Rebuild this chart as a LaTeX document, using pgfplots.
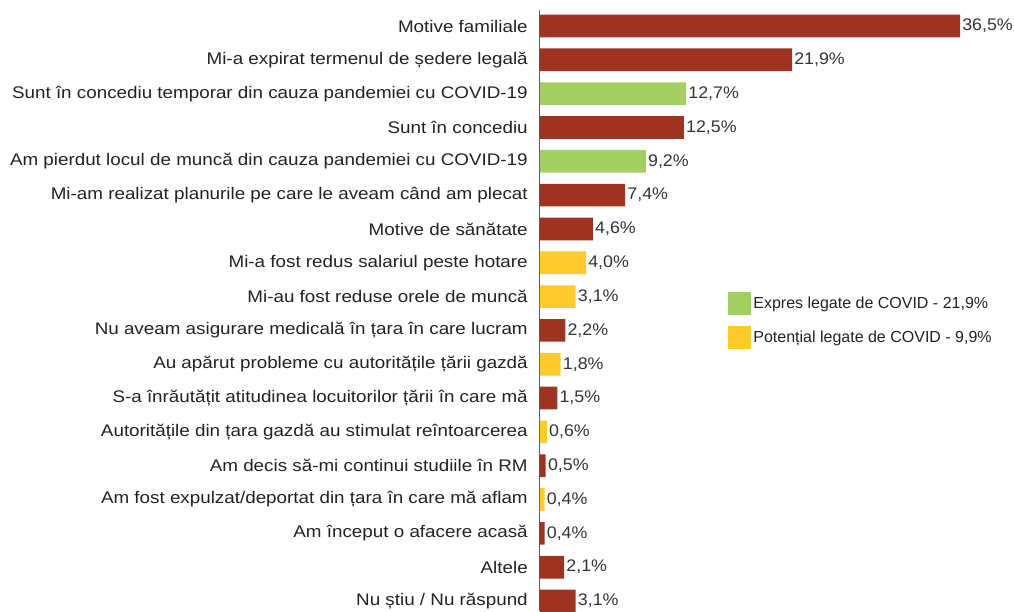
\documentclass[border=0pt]{standalone}
\usepackage{pgfplots}
\pgfplotsset{compat=1.18}
\usepackage{fontspec}
\setmainfont{Liberation Sans}
\newfontfamily\labfont{Liberation Sans}[FakeStretch=1.12]
\newfontfamily\valfont{Liberation Sans}[FakeStretch=1.06]

\definecolor{barred}{HTML}{9E3322}
\definecolor{bargreen}{HTML}{A3CF62}
\definecolor{baryellow}{HTML}{FFCA2C}
\definecolor{txt}{HTML}{222222}

\begin{document}
\begin{tikzpicture}
\path[use as bounding box] (-405pt,0pt) rectangle (355.5pt,458.25pt);
\begin{axis}[
    scale only axis,
    width=354.75pt, height=450.75pt,
    xbar, bar width=17pt, bar shift=0pt,
    xmin=0, xmax=41.1,
    ymin=-0.473, ymax=17.296,
    y dir=reverse,
    axis x line=none,
    axis y line*=left,
    y axis line style={draw=black!65, line width=0.75pt},
    ytick={0,...,17},
    major tick length=0pt,
    yticklabels={
        {Motive familiale},
        {Mi-a expirat termenul de ședere legală},
        {Sunt în concediu temporar din cauza pandemiei cu COVID-19},
        {Sunt în concediu},
        {Am pierdut locul de muncă din cauza pandemiei cu COVID-19},
        {Mi-am realizat planurile pe care le aveam când am plecat},
        {Motive de sănătate},
        {Mi-a fost redus salariul peste hotare},
        {Mi-au fost reduse orele de muncă},
        {Nu aveam asigurare medicală în țara în care lucram},
        {Au apărut probleme cu autoritățile țării gazdă},
        {S-a înrăutățit atitudinea locuitorilor țării în care mă},
        {Autoritățile din țara gazdă au stimulat reîntoarcerea},
        {Am decis să-mi continui studiile în RM},
        {Am fost expulzat/deportat din țara în care mă aflam},
        {Am început o afacere acasă},
        {Altele},
        {Nu știu / Nu răspund}},
    yticklabel style={font=\labfont\fontsize{12.6}{14}\selectfont, text=txt, inner xsep=0pt, xshift=-9pt},
    point meta=x,
    nodes near coords={\pgfmathprintnumber[fixed,fixed zerofill,precision=1,use comma,assume math mode=true]{\pgfplotspointmeta}\%},
    nodes near coords style={font=\valfont\fontsize{12.6}{14}\selectfont, text=black!80, inner xsep=1.5pt},
    legend style={at={(0.397,0.531)}, anchor=north west, draw=none, fill=none,
        font=\fontsize{12}{14}\selectfont, text=txt, row sep=8.5pt, inner sep=0pt,
        cells={anchor=west}},
    legend image code/.code={\fill[#1] (0pt,-8.5pt) rectangle (17pt,8.5pt);},
    legend cell align=left,
]
\addplot[fill=bargreen, draw=none] coordinates {(12.7,2) (9.2,4)};
\addlegendentry{Expres legate de COVID - 21,9\%}
\addplot[fill=baryellow, draw=none] coordinates {(4.0,7) (3.1,8) (1.8,10) (0.6,12) (0.4,14)};
\addlegendentry{Potențial legate de COVID - 9,9\%}
\addplot[fill=barred, draw=none, forget plot] coordinates {
    (36.5,0) (21.9,1) (12.5,3) (7.4,5) (4.6,6) (2.2,9) (1.5,11)
    (0.5,13) (0.4,15) (2.1,16) (3.1,17)};
\end{axis}
\end{tikzpicture}
\end{document}
